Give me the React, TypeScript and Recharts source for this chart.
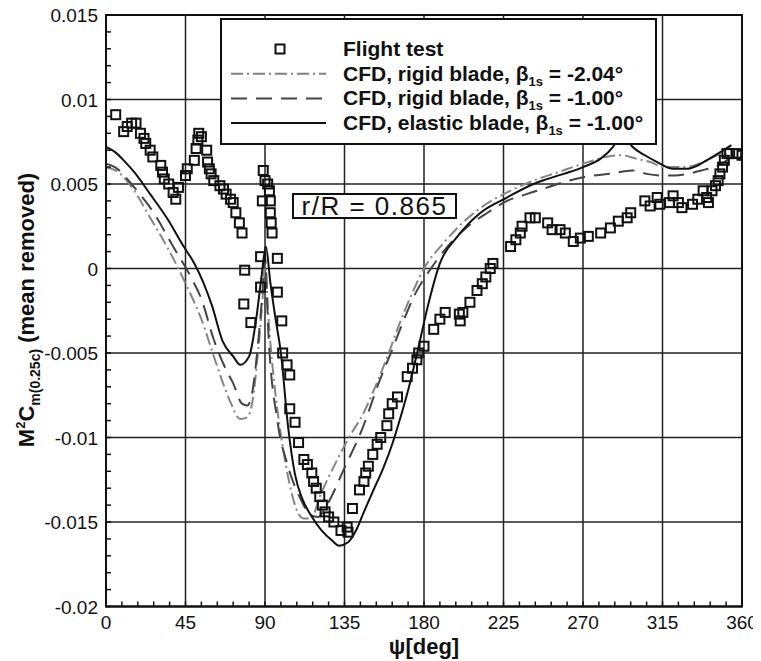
import React from 'react';
import { ComposedChart, Line, Scatter, XAxis, YAxis, ReferenceLine, ReferenceArea, Legend } from 'recharts';

// ---------- axis ticks ----------
const xMajorTicks = [0, 45, 90, 135, 180, 225, 270, 315, 360];
const xTickLabels = ['0', '45', '90', '135', '180', '225', '270', '315', '360'];
const yMajorTicks = [-0.02, -0.015, -0.01, -0.005, 0, 0.005, 0.01, 0.015];
const yTickLabels = ['-0.02', '-0.015', '-0.01', '-0.005', '0', '0.005', '0.01', '0.015'];
const xGrid = [45, 90, 135, 180, 225, 270, 315];
const yGrid = [-0.015, -0.01, -0.005, 0, 0.005, 0.01];

// ---------- Flight test (squares) ----------
const flightPsi = [
  5.5, 10, 12, 14.5, 17, 19.5, 21.5, 22.5, 25, 26.5, 31, 32, 33, 35.5, 38, 39.5, 41, 45, 46, 50,
  51, 52, 52.5, 54, 57, 57.5, 58.5, 59.5, 61, 64.5, 66.5, 68, 70.5, 72, 73.5, 75.5, 77, 78.5, 78, 82,
  87.5, 87.5, 88.5, 89, 90, 91.5, 92.5, 93, 93, 93.5, 94, 97, 97, 99.5, 100, 102.5, 104, 104, 107, 109,
  112, 114, 116.5, 117.5, 119, 121, 122.5, 124, 126, 129, 133, 136.5, 137, 139.5, 143.5, 146, 147, 148.5, 151, 153.5,
  155.5, 159, 160, 162, 165, 170.5, 173.5, 176, 177, 180, 185.5, 189, 192, 200, 200.5, 202, 206, 210, 213, 215,
  217.5, 219, 229, 232, 234.5, 235.5, 240, 243, 250, 252.5, 257, 260, 264.5, 268.5, 273, 280, 285.5, 290, 295, 297,
  305, 308, 312, 313.5, 319, 321, 324, 326, 332, 335, 338, 340, 341, 343, 345, 346.5, 347.5, 349, 350, 351.5,
  353, 357, 360,
];
const flightVal = [
  0.0091, 0.0081, 0.0084, 0.0086, 0.0086, 0.008, 0.0077, 0.0074, 0.007, 0.0066, 0.0061, 0.0057, 0.0053, 0.005, 0.0045, 0.0041, 0.0048, 0.0055, 0.0059, 0.0064,
  0.0071, 0.0076, 0.008, 0.0078, 0.007, 0.0063, 0.0059, 0.0056, 0.0052, 0.0049, 0.0047, 0.0044, 0.0041, 0.0039, 0.0033, 0.0027, 0.0021, -0.0001, -0.0021, -0.0032,
  0.0007, -0.0011, 0.004, 0.0058, 0.0052, 0.005, 0.0046, 0.004, 0.0033, 0.0027, 0.0021, 0.0006, -0.0014, -0.0031, -0.005, -0.0057, -0.0063, -0.0083, -0.0091, -0.0103,
  -0.0113, -0.0116, -0.0121, -0.0126, -0.013, -0.0135, -0.014, -0.0144, -0.0147, -0.015, -0.0155, -0.0153, -0.0156, -0.0142, -0.0131, -0.0126, -0.0121, -0.0117, -0.011, -0.0104,
  -0.01, -0.0093, -0.0086, -0.008, -0.0076, -0.0064, -0.0059, -0.0054, -0.005, -0.0046, -0.0036, -0.003, -0.0026, -0.0027, -0.0031, -0.0026, -0.002, -0.0013, -0.0009, -0.0005,
  0.0, 0.0003, 0.0013, 0.0017, 0.0021, 0.0025, 0.003, 0.003, 0.0027, 0.0023, 0.0023, 0.0021, 0.0016, 0.0018, 0.0019, 0.0021, 0.0024, 0.0028, 0.003, 0.0033,
  0.004, 0.0037, 0.0042, 0.0038, 0.0039, 0.0043, 0.0039, 0.0036, 0.0038, 0.0041, 0.0046, 0.0042, 0.0039, 0.0046, 0.0049, 0.0052, 0.0056, 0.006, 0.0064, 0.0068,
  0.0068, 0.0068, 0.0067,
];

// ---------- CFD, rigid blade, beta1s = -2.04 (dash-dot) ----------
const rigid204Psi = [
  0, 7, 16, 25, 35, 46, 54, 62, 70, 76, 80, 83, 86, 88.5, 90, 92, 96, 100, 104, 108,
  112, 116, 121, 130, 137, 146, 154, 160, 166, 174, 180, 191, 205, 215, 227, 242, 256, 270, 283, 292,
  300, 308, 316, 325, 333, 340, 350, 356, 360,
];
const rigid204Val = [
  0.006, 0.0057, 0.0046, 0.003, 0.0012, -0.0011, -0.003, -0.0055, -0.0078, -0.0089, -0.0088, -0.0078, -0.005, -0.002, 0.0002, -0.003, -0.0075, -0.0105, -0.0128, -0.0143,
  -0.0148, -0.0148, -0.0135, -0.0115, -0.0101, -0.0085, -0.0066, -0.005, -0.0033, -0.0013, 0.0, 0.0015, 0.003, 0.0038, 0.0045, 0.0052, 0.0057, 0.0062, 0.0066, 0.0067,
  0.0065, 0.0063, 0.006, 0.006, 0.0061, 0.0064, 0.0068, 0.0066, 0.0064,
];

// ---------- CFD, rigid blade, beta1s = -1.00 (dashed) ----------
const rigid100Psi = [
  0, 5, 16, 27, 38, 48, 54, 61, 68, 72, 77, 80, 83, 86, 88.5, 90, 92, 97, 103, 110,
  116, 120, 125, 135, 145, 155, 162, 168, 175, 182, 195, 205, 216, 227, 238, 250, 262, 270, 285, 298,
  306, 315, 322, 329, 337, 344, 350, 355, 360,
];
const rigid100Val = [
  0.0062, 0.006, 0.0048, 0.0033, 0.0013, -0.0005, -0.0018, -0.0042, -0.006, -0.0068, -0.008, -0.0081, -0.0072, -0.0045, -0.0015, 0.0006, -0.004, -0.009, -0.0117, -0.0136,
  -0.0146, -0.0147, -0.014, -0.0118, -0.0095, -0.0066, -0.0048, -0.0032, -0.0015, -0.0003, 0.0015, 0.0025, 0.0033, 0.004, 0.0044, 0.0048, 0.0052, 0.0054, 0.0056, 0.0058,
  0.0056, 0.0055, 0.0055, 0.0056, 0.0058, 0.006, 0.0063, 0.0066, 0.0066,
];

// ---------- CFD, elastic blade, beta1s = -1.00 (solid) ----------
const elasticPsi = [
  0, 5, 10, 16, 25, 35, 44, 50, 55, 60, 66, 72, 76, 81, 85, 88, 90.5, 93, 96, 99,
  103, 107, 111, 116, 122, 128, 132, 137, 142, 146, 151, 157, 162, 167, 172, 177, 182, 189, 199, 212,
  227, 242, 250, 270, 280, 287, 292, 298, 305, 312, 321, 329, 335, 340, 348, 354,
];
const elasticVal = [
  0.0072, 0.0069, 0.0064, 0.0057, 0.0044, 0.0029, 0.0013, 0.0003, -0.0008, -0.0022, -0.0043, -0.0052, -0.0057, -0.0052, -0.003, -0.0005, 0.0013, -0.0008, -0.003, -0.005,
  -0.0093, -0.0122, -0.0136, -0.0146, -0.0155, -0.0161, -0.0164, -0.0162, -0.0154, -0.0144, -0.0132, -0.0118, -0.0104, -0.0087, -0.0068, -0.0046, -0.0023, 0.0003, 0.0019, 0.0033,
  0.0042, 0.005, 0.0053, 0.006, 0.0065, 0.0072, 0.008, 0.0072, 0.0067, 0.0063, 0.0059, 0.0059, 0.0061, 0.0064, 0.0069, 0.0073,
];

const toPts = (xs: number[], ys: number[]) => xs.map((x, i) => ({ psi: x, v: ys[i] }));
const flightData = toPts(flightPsi, flightVal);
const rigid204Data = toPts(rigid204Psi, rigid204Val);
const rigid100Data = toPts(rigid100Psi, rigid100Val);
const elasticData = toPts(elasticPsi, elasticVal);

const xMinor: number[] = [];
for (let i = 0; i <= 40; i++) xMinor.push(i * 9);
const yMinor: number[] = [];
for (let i = -20; i <= 15; i++) yMinor.push(i / 1000);

const FONT = '"Liberation Sans", Arial, Helvetica, sans-serif';
const DASHDOT = '12 4 2 4';
const DASHED = '16 9';

const XTick = (props: any) => {
  const { x, y, payload } = props;
  const idx = xMajorTicks.indexOf(payload.value);
  if (idx < 0) return <g />;
  return (
    <text x={x} y={y + 25} textAnchor="middle" fontFamily={FONT} fontSize={19} fill="#111">
      {xTickLabels[idx]}
    </text>
  );
};

const YTick = (props: any) => {
  const { x, y, payload } = props;
  const idx = yMajorTicks.findIndex((t) => Math.abs(t - payload.value) < 1e-9);
  if (idx < 0) return <g />;
  return (
    <text x={x - 11} y={y} dy={7} textAnchor="end" fontFamily={FONT} fontSize={19} fill="#111">
      {yTickLabels[idx]}
    </text>
  );
};

const SquareMarker = (props: any) => {
  const { cx, cy } = props;
  if (cx == null || cy == null) return <g />;
  return <rect x={cx - 4.5} y={cy - 4.5} width={9} height={9} fill="none" stroke="#111" strokeWidth={2} />;
};

const YTitle = () => (
  <text transform="rotate(-90)" x={-310} y={34} textAnchor="middle" fontFamily={FONT} fontWeight="bold" fontSize={22} fill="#111">
    <tspan>M</tspan>
    <tspan fontSize={13} dy={-9}>2</tspan>
    <tspan dy={9}>C</tspan>
    <tspan fontSize={14} dy={6}>m(0.25c)</tspan>
    <tspan dy={-6}> (mean removed)</tspan>
  </text>
);

const XTitle = () => (
  <text x={424} y={654} textAnchor="middle" fontFamily={FONT} fontWeight="bold" fontSize={22} fill="#111">
    ψ[deg]
  </text>
);

const legendRows = [
  { kind: 'square', text: 'Flight test', beta: '' },
  { kind: 'dashdot', text: 'CFD, rigid blade, ', beta: '-2.04°' },
  { kind: 'dashed', text: 'CFD, rigid blade, ', beta: '-1.00°' },
  { kind: 'solid', text: 'CFD, elastic blade, ', beta: '-1.00°' },
];

const LegendBox = () => (
  <div style={{ width: 437, height: 127, boxSizing: 'border-box', border: '2px solid #111', background: '#fff' }}>
    <svg width={433} height={123} style={{ display: 'block' }}>
      {legendRows.map((r, i) => {
        const cy = 29 + i * 24.7;
        return (
          <g key={i}>
            {r.kind === 'square' && <rect x={53.5} y={cy - 4.5} width={9} height={9} fill="none" stroke="#111" strokeWidth={2} />}
            {r.kind === 'dashdot' && <line x1={9} x2={104} y1={cy} y2={cy} stroke="#808080" strokeWidth={2} strokeDasharray={DASHDOT} />}
            {r.kind === 'dashed' && <line x1={9} x2={104} y1={cy} y2={cy} stroke="#444" strokeWidth={2} strokeDasharray={DASHED} />}
            {r.kind === 'solid' && <line x1={9} x2={104} y1={cy} y2={cy} stroke="#111" strokeWidth={2} />}
            <text x={121} y={cy + 7} fontFamily={FONT} fontWeight="bold" fontSize={21} fill="#111">
              <tspan>{r.text}</tspan>
              {r.beta && <tspan>β</tspan>}
              {r.beta && <tspan fontSize={13} dy={5}>1s</tspan>}
              {r.beta && <tspan dy={-5}>{' = ' + r.beta}</tspan>}
            </text>
          </g>
        );
      })}
    </svg>
  </div>
);

export default function App() {
  return (
    <div style={{ position: 'relative', width: 761, height: 661, margin: '-8px 0 0 -8px' }}>
      <ComposedChart width={761} height={661} margin={{ top: 15, right: 19, bottom: 14.5, left: 8 }}>
        <XAxis
          type="number"
          dataKey="psi"
          domain={[0, 360]}
          ticks={xMinor}
          interval={0}
          tickSize={-5}
          tickLine={{ stroke: '#111', strokeWidth: 1.5 }}
          axisLine={{ stroke: '#111', strokeWidth: 2 }}
          tick={<XTick />}
          height={40}
          allowDataOverflow
        />
        <YAxis
          type="number"
          dataKey="v"
          domain={[-0.02, 0.015]}
          ticks={yMinor}
          interval={0}
          tickSize={-5}
          tickLine={{ stroke: '#111', strokeWidth: 1.5 }}
          axisLine={{ stroke: '#111', strokeWidth: 2 }}
          tick={<YTick />}
          width={98}
          allowDataOverflow
        />
        {xGrid.map((g) => (
          <ReferenceLine key={'gx' + g} x={g} stroke="#222" strokeWidth={1.5} />
        ))}
        {yGrid.map((g) => (
          <ReferenceLine key={'gy' + g} y={g} stroke="#222" strokeWidth={1.5} />
        ))}
        <Line data={rigid204Data} dataKey="v" type="monotone" stroke="#858585" strokeWidth={2} strokeDasharray={DASHDOT} dot={false} isAnimationActive={false} />
        <Line data={rigid100Data} dataKey="v" type="monotone" stroke="#444" strokeWidth={2} strokeDasharray={DASHED} dot={false} isAnimationActive={false} />
        <Line data={elasticData} dataKey="v" type="monotone" stroke="#111" strokeWidth={2} dot={false} isAnimationActive={false} />
        <Scatter data={flightData} dataKey="v" shape={<SquareMarker />} isAnimationActive={false} />
        <ReferenceArea x1={0} x2={360} y1={-0.02} y2={0.015} fill="none" stroke="#111" strokeWidth={2} />
        <Legend
          layout="horizontal"
          verticalAlign="middle"
          align="center"
          content={() => <LegendBox />}
          wrapperStyle={{ left: 220, top: 18, width: 437, height: 127 }}
        />
        <YTitle />
        <XTitle />
      </ComposedChart>
      <div
        style={{
          position: 'absolute',
          left: 292,
          top: 193,
          width: 165,
          height: 26,
          boxSizing: 'border-box',
          border: '2px solid #111',
          background: '#fff',
          fontFamily: FONT,
          fontSize: 26,
          letterSpacing: 1.5,
          lineHeight: '22px',
          textAlign: 'center',
          color: '#111',
          whiteSpace: 'nowrap',
        }}
      >
        r/R = 0.865
      </div>
    </div>
  );
}
